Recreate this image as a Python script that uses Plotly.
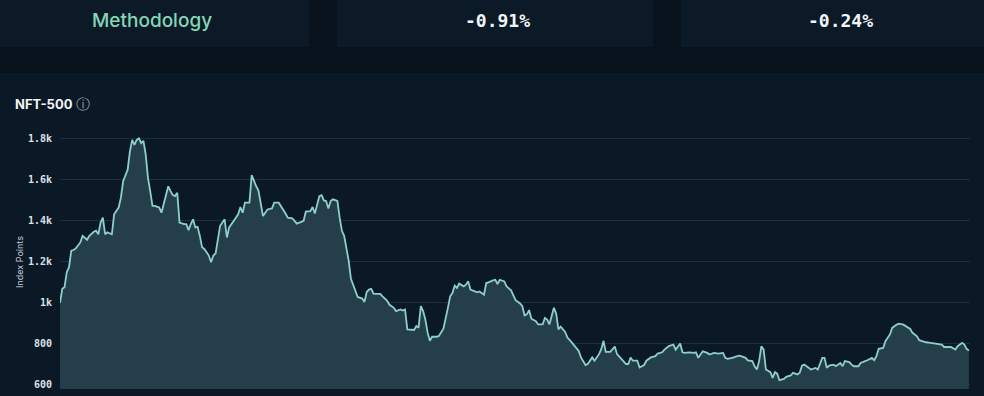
import plotly.graph_objects as go
import pandas as pd

W, H = 984, 396

# ---------------- data ----------------
start_date = "2022-01-01"
day_offsets = [
    0, 1, 2, 3, 4, 5, 6, 7, 9, 10, 12, 13, 15, 16, 17, 18, 19, 20, 21, 22, 23, 24, 26, 27, 28, 30,
    31, 32, 33, 34, 35, 36, 37, 38, 39, 40, 41, 42, 44, 45, 47, 48, 49, 50, 51, 52, 53, 55, 56, 57,
    58, 59, 60, 61, 62, 63, 64, 66, 67, 68, 69, 71, 72, 73, 74, 75, 77, 78, 79, 80, 81, 82, 84, 85,
    86, 87, 88, 90, 91, 92, 94, 95, 97, 98, 100, 101, 103, 104, 105, 107, 108, 109, 111, 112, 113,
    115, 116, 117, 118, 119, 120, 121, 123, 124, 125, 126, 128, 129, 131, 132, 134, 135, 136, 137,
    138, 139, 140, 142, 143, 145, 146, 148, 149, 151, 152, 153, 154, 156, 157, 158, 159, 160, 161,
    162, 163, 164, 165, 167, 168, 170, 171, 172, 173, 174, 175, 176, 177, 179, 180, 181, 182, 183,
    185, 186, 188, 189, 190, 192, 193, 194, 195, 197, 198, 200, 201, 202, 204, 205, 206, 207, 208,
    209, 211, 212, 214, 215, 216, 217, 219, 220, 221, 222, 224, 225, 227, 228, 230, 231, 233, 234,
    236, 237, 239, 240, 241, 242, 244, 246, 247, 249, 251, 252, 253, 254, 256, 257, 259, 260, 262,
    264, 265, 267, 268, 270, 271, 272, 273, 275, 276, 277, 279, 281, 282, 283, 285, 287, 288, 290,
    292, 294, 295, 296, 298, 300, 301, 302, 304, 305, 307, 308, 309, 310, 311, 312, 313, 315, 316,
    317, 318, 319, 321, 322, 324, 325, 327, 328, 329, 330, 332, 333, 335, 336, 338, 339, 340, 341,
    343, 344, 346, 347, 348, 350, 351, 352, 354, 355, 357, 358, 360, 361, 362, 363, 365, 366, 368,
    369, 371, 372, 374, 375, 377, 378, 380, 381, 383, 384, 386, 388, 390, 391, 392, 394, 395, 397,
    398, 400, 401, 402, 403,
]
index_points = [
    1000, 1069, 1077, 1150, 1174, 1255, 1258, 1266, 1295, 1327, 1308, 1327, 1347, 1352, 1335, 1392,
    1416, 1335, 1344, 1339, 1335, 1432, 1465, 1513, 1594, 1650,
    1739, 1795, 1771, 1795, 1803, 1779, 1790, 1723, 1610, 1545, 1473, 1473, 1465, 1440, 1521, 1569,
    1545, 1526, 1521, 1537, 1392, 1384, 1384, 1355,
    1384, 1408, 1368, 1371, 1327, 1271, 1263, 1231, 1198, 1231, 1242, 1376, 1392, 1408, 1319, 1368,
    1400, 1419, 1432, 1468, 1440, 1489, 1489, 1623,
    1594, 1569, 1548, 1424, 1440, 1456, 1461, 1489, 1489, 1473, 1436, 1416, 1413, 1400, 1387, 1395,
    1400, 1445, 1448, 1468, 1436,
    1521, 1526, 1500, 1497, 1461, 1497, 1505, 1497, 1416, 1352, 1327, 1206, 1118, 1061, 1029, 1021,
    1005, 1053, 1065,
    1069, 1045, 1044, 1044, 1032, 1011, 992, 976, 960, 968, 963, 968, 871, 868, 868, 887, 879, 984, 960,
    919, 855, 815, 835, 835, 839, 874, 919, 976, 1032, 1048, 1084, 1073, 1094, 1081, 1089, 1105, 1065, 1061,
    1052, 1056, 1040, 1097, 1100, 1110, 1113, 1092, 1113, 1105, 1081, 1061, 1032, 1013, 997, 984, 939, 944, 965,
    923, 911, 895, 895, 927, 919, 895, 976, 948, 871, 884, 858, 831, 806, 794, 766, 734, 697, 702,
    734, 718, 750, 774, 815, 761, 761, 787, 750, 726, 702, 702, 734, 718, 718, 685, 697, 718, 734,
    740, 753, 759, 772, 789, 792, 797, 772, 802, 759, 756, 759, 756, 759, 732, 764, 756, 748, 756,
    753, 756, 732, 727, 732, 737, 743, 740, 732, 720, 716, 691, 675, 716, 789, 772, 675, 662, 634,
    662, 655, 623, 629, 639, 646, 659, 651, 659, 694, 699, 683, 675, 683, 675, 732, 732, 683, 694,
    699, 691, 707, 691, 716, 711, 699, 691, 691, 707, 716, 720, 732, 720, 740, 776, 780, 813, 846,
    878, 894, 899, 894, 886, 873, 854, 837, 818, 810, 808, 805, 802, 800, 797, 785, 785, 785, 772,
    789, 805, 797, 776, 767,
]
x_tick_dates = ["2022-02-01", "2022-03-01", "2022-04-01", "2022-05-01", "2022-06-01", "2022-07-01",
                "2022-08-01", "2022-09-01", "2022-10-01", "2022-11-01", "2022-12-01", "2023-01-01",
                "2023-02-01"]
x_tick_labels = ["Feb 22", "Mar 22", "Apr 22", "May 22", "Jun 22", "Jul 22", "Aug 22", "Sep 22",
                 "Oct 22", "Nov 22", "Dec 22", "Jan 23", "Feb 23"]
y_tick_values = [600, 800, 1000, 1200, 1400, 1600, 1800]
y_tick_labels = ["600", "800", "1k", "1.2k", "1.4k", "1.6k", "1.8k"]
card_labels = ["Methodology", "-0.91%", "-0.24%"]
chart_title = "NFT-500"
y_title = "Index Points"

# ---------------- styling ----------------
PAGE_BG = "#08121c"
CARD_BG = "#0c1a28"
PANEL_BG = "#0b1927"
GRID = "#1b2f3e"
LINE = "#8ccfcd"
FILL = "#243f49"
TICK = "#dde2e8"

start = pd.Timestamp(start_date)
dates = start + pd.to_timedelta(day_offsets, unit="D")
x_end = start + pd.Timedelta(days=403.5)


def px(xp):
    return xp / W


def py(yp):
    return 1 - yp / H


fig = go.Figure()
fig.add_trace(go.Scatter(
    x=dates, y=index_points, mode="lines",
    line=dict(color=LINE, width=1.8),
    fill="tozeroy", fillcolor=FILL,
    hoverinfo="skip", showlegend=False,
))

shapes = []
# page cards
for x0, x1 in [(-10, 309), (337, 653), (681, 1000)]:
    shapes.append(dict(type="rect", xref="paper", yref="paper", layer="below",
                       x0=px(x0), x1=px(x1), y0=py(47), y1=py(-10),
                       fillcolor=CARD_BG, line=dict(width=0)))
# chart panel
shapes.append(dict(type="rect", xref="paper", yref="paper", layer="below",
                   x0=px(-10), x1=px(1000), y0=py(420), y1=py(73),
                   fillcolor=PANEL_BG, line=dict(width=0)))

annotations = [
    dict(text=card_labels[0], x=px(152), y=py(21), xref="paper", yref="paper",
         showarrow=False, xanchor="center", yanchor="middle",
         font=dict(family="Inter", size=19, color="#84d7b5", weight=500)),
    dict(text=card_labels[1], x=px(497), y=py(21), xref="paper", yref="paper",
         showarrow=False, xanchor="center", yanchor="middle",
         font=dict(family="DejaVu Sans Mono", size=18, color="#f2f4f6", weight="bold")),
    dict(text=card_labels[2], x=px(840), y=py(21), xref="paper", yref="paper",
         showarrow=False, xanchor="center", yanchor="middle",
         font=dict(family="DejaVu Sans Mono", size=18, color="#f2f4f6", weight="bold")),
    dict(text=chart_title, x=px(13), y=py(104), xref="paper", yref="paper",
         showarrow=False, xanchor="left", yanchor="middle",
         font=dict(family="Inter", size=13, color="#f2f4f6", weight="bold")),
    dict(text="ⓘ", x=px(83), y=py(104), xref="paper", yref="paper",
         showarrow=False, xanchor="center", yanchor="middle",
         font=dict(family="DejaVu Sans", size=14, color="#9aa4ae")),
    dict(text=y_title, x=px(19), y=py(262), xref="paper", yref="paper",
         showarrow=False, xanchor="center", yanchor="middle", textangle=-90,
         font=dict(family="Inter", size=9, color="#c3cad2")),
]

fig.update_layout(
    width=W, height=H,
    margin=dict(l=0, r=0, t=0, b=0, autoexpand=False),
    paper_bgcolor=PAGE_BG,
    plot_bgcolor="rgba(0,0,0,0)",
    shapes=shapes,
    annotations=annotations,
    xaxis=dict(
        domain=[px(60), px(970)],
        range=[start, x_end],
        automargin=False,
        tickvals=x_tick_dates, ticktext=x_tick_labels,
        showgrid=False, zeroline=False, showline=False,
        ticks="outside", ticklen=2, tickcolor="rgba(0,0,0,0)",
        tickfont=dict(family="DejaVu Sans Mono", size=10, color=TICK, weight="bold"),
    ),
    yaxis=dict(
        domain=[py(389), py(118)],
        range=[580, 1902],
        automargin=False,
        tickvals=y_tick_values, ticktext=y_tick_labels,
        showgrid=True, gridcolor=GRID, gridwidth=1,
        zeroline=False, showline=False,
        ticks="outside", ticklen=5, tickcolor="rgba(0,0,0,0)",
        tickfont=dict(family="DejaVu Sans Mono", size=10, color=TICK, weight="bold"),
    ),
)

page_fix = (
    "var d=document.documentElement,b=document.body;"
    "d.style.margin='0';d.style.padding='0';d.style.overflow='hidden';"
    "b.style.margin='0';b.style.padding='0';b.style.overflow='hidden';"
    "b.style.background='" + PAGE_BG + "';"
)

fig.write_html("out.html", config={"displayModeBar": False}, post_script=page_fix)
